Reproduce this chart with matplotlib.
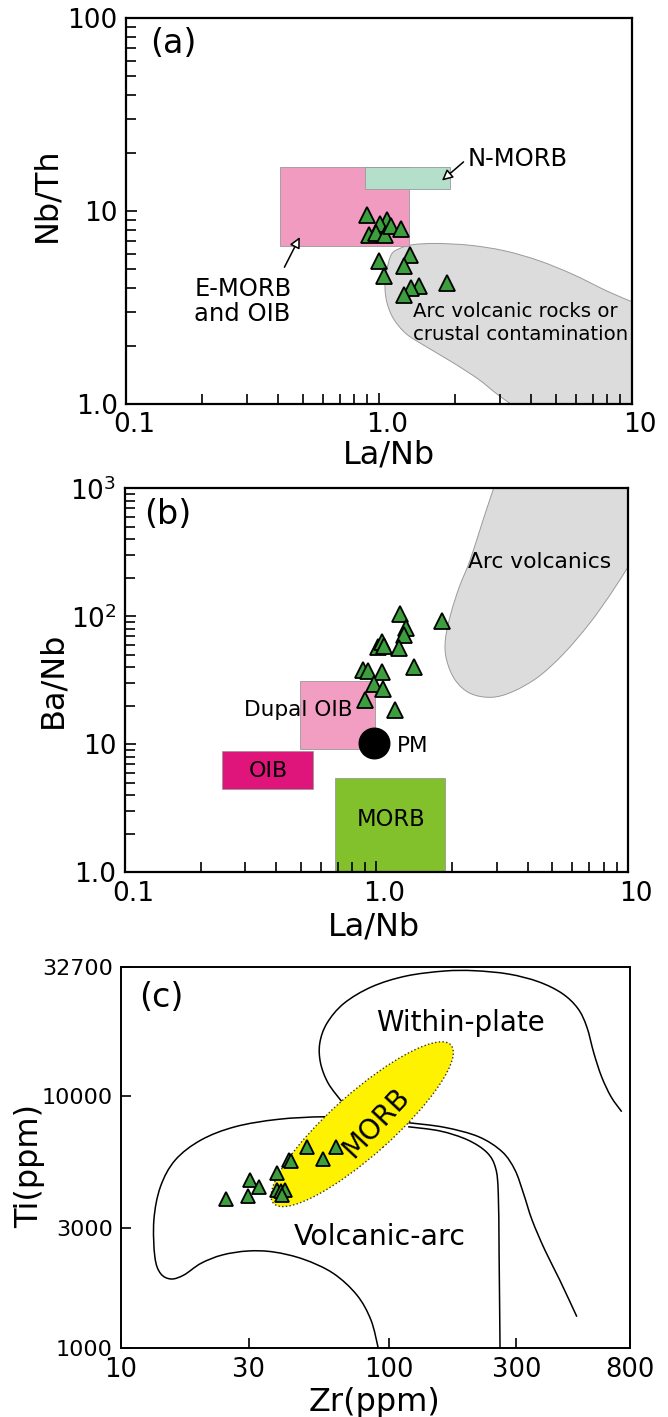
import numpy as np
import matplotlib
matplotlib.use("Agg")
import matplotlib.pyplot as plt
import matplotlib.transforms as mtransforms
from matplotlib.patches import Ellipse, PathPatch
from matplotlib.path import Path
from matplotlib.ticker import LogLocator, NullFormatter, NullLocator

plt.rcParams['font.family'] = ['DejaVu Sans']
plt.rcParams['mathtext.default'] = 'regular'

# ---- panel (a): Nb/Th vs La/Nb ----
a_la_nb = [0.897, 1.077, 1.008, 0.911, 0.977, 1.056, 1.111, 1.219,
           0.996, 1.048, 1.323, 1.258, 1.441, 1.344, 1.258, 1.855]
a_nb_th = [9.57, 9.00, 8.58, 7.55, 7.69, 7.55, 8.33, 8.12,
           5.54, 4.62, 5.92, 5.19, 4.11, 3.99, 3.69, 4.22]

emorb_x = [0.408, 1.318]
emorb_y = [6.60, 16.96]
nmorb_x = [0.88, 1.914]
nmorb_y = [13.08, 16.96]

# arc field outline, from the bottom edge round to the right edge
arc_a_x = [3.32, 2.90, 2.48, 1.966, 1.557, 1.282, 1.141, 1.077, 1.056, 1.068, 1.119,
           1.21, 1.359, 1.684, 2.297, 3.134, 4.28, 5.84, 7.97, 10]
arc_a_y = [1.0, 1.136, 1.34, 1.635, 1.962, 2.31, 2.77, 3.33, 3.99, 4.79, 5.96,
           6.41, 6.70, 6.80, 6.65, 6.23, 5.54, 4.70, 3.85, 3.39]

# ---- panel (b): Ba/Nb vs La/Nb ----
b_la_nb = [1.24, 1.816, 1.31, 1.285, 1.014, 1.047, 1.071, 1.232,
           1.41, 0.881, 0.927, 1.049, 0.977, 1.064, 0.90, 1.185]
b_ba_nb = [105, 92.4, 81.1, 71.4, 57.6, 63.0, 58.6, 56.2,
           40.4, 38.1, 37.6, 36.9, 29.6, 26.9, 22.2, 18.5]

dupal_x = [0.497, 0.984]
dupal_y = [9.2, 31.2]
oib_x = [0.244, 0.558]
oib_y = [4.48, 8.92]
morb_x = [0.687, 1.876]
morb_y = [1.0, 5.43]
pm_x, pm_y = 0.977, 10.3

arc_b_x = [2.92, 2.65, 2.355, 2.135, 1.975, 1.877, 1.899, 2.053, 2.355,
           2.863, 3.48, 4.40, 5.56, 7.03, 8.55, 10]
arc_b_y = [1000, 565, 275, 170.3, 105.5, 65.3, 45.6, 31.8, 25.0,
           23.3, 25.8, 33.7, 51.4, 88.2, 151, 244]

# ---- panel (c): Ti vs Zr ----
c_zr = [24.7, 29.7, 30.4, 32.8, 38.4, 42.5, 43.2,
        38.4, 39.5, 41.0, 39.9, 49.4, 56.7, 63.4]
c_ti = [3902, 4032, 4655, 4378, 4975, 5588, 5551,
        4248, 4221, 4248, 4058, 6277, 5640, 6310]

within_x = [66.9, 59.5, 55.7, 55.3, 58.8, 68.1, 86.6, 116.1, 161.6, 209.2,
            280.5, 363, 444.5, 509, 550, 585, 625, 678, 743]
within_y = [9520, 11260, 13520, 16230, 19490, 23390, 27230, 30020, 31430, 31520,
            30580, 28500, 25630, 22350, 18890, 14810, 11960, 9960, 8690]

arc_top_x = [114.0, 86.6, 57.8, 38.6, 26.7, 19.9, 15.95, 14.04, 13.27, 13.38, 14.04,
             15.37, 17.18, 19.9, 23.9, 29.8, 37.2, 48.1, 62.1, 76.1, 85.9, 91.5]
arc_top_y = [7762, 8200, 8299, 8103, 7574, 6708, 5588, 4378, 3229, 2310, 1984,
             1884, 1954, 2174, 2346, 2433, 2411, 2256, 1984, 1627, 1295, 1000]

inner_x = [118.3, 155.8, 197.8, 233.5, 251.2, 256.9, 258.7, 260.8]
inner_y = [7574, 7284, 6708, 5973, 5179, 4122, 2382, 1000]

outer_x = [118.3, 161.6, 216.9, 265.5, 296.6, 319.0, 343.6, 383.6, 436.0, 505.1]
outer_y = [7859, 7534, 6914, 6029, 5098, 4122, 3229, 2455, 1866, 1335]

morb_c_center = (79.7, 7750)

GREEN = '#3c9e3c'


def smooth_path(xs, ys, corners=(), close=False):
    # Catmull-Rom through the outline points, done in log space,
    # optional straight corner points appended before closing
    p = np.column_stack([np.log10(xs), np.log10(ys)])
    n = len(p)
    verts = [p[0]]
    codes = [Path.MOVETO]
    for i in range(n - 1):
        p0 = p[i - 1] if i > 0 else p[i]
        p3 = p[i + 2] if i + 2 < n else p[i + 1]
        verts += [p[i] + (p[i + 1] - p0) / 6, p[i + 1] - (p3 - p[i]) / 6, p[i + 1]]
        codes += [Path.CURVE4] * 3
    for c in corners:
        verts.append(np.log10(c))
        codes.append(Path.LINETO)
    if close:
        verts.append(p[0])
        codes.append(Path.CLOSEPOLY)
    return Path(10 ** np.array(verts), codes)


fig = plt.figure(figsize=(6.68, 14.17), dpi=100)
W, H = 668, 1417
axa = fig.add_axes([126 / W, 1 - 404 / H, 506 / W, 385.7 / H])
axb = fig.add_axes([124.8 / W, 1 - 872.3 / H, 503.4 / W, 384 / H])
axc = fig.add_axes([121 / W, 1 - 1348.3 / H, 509.3 / W, 381.6 / H])

shift = mtransforms.ScaledTranslation(0.08, 0, fig.dpi_scale_trans)


def box(ax, xs, ys, color, z=1):
    ax.fill([xs[0], xs[1], xs[1], xs[0]], [ys[0], ys[0], ys[1], ys[1]],
            fc=color, ec='#999999', lw=0.6, zorder=z)


def log_frame(ax, xlim, ylim, xt, xl, yt, yl):
    ax.set_xscale('log')
    ax.set_yscale('log')
    ax.set_xlim(*xlim)
    ax.set_ylim(*ylim)
    ax.set_xticks(xt, xl)
    ax.set_yticks(yt, yl)
    ax.xaxis.set_minor_locator(LogLocator(base=10, subs=range(2, 10)))
    ax.yaxis.set_minor_locator(LogLocator(base=10, subs=range(2, 10)))
    ax.xaxis.set_minor_formatter(NullFormatter())
    ax.yaxis.set_minor_formatter(NullFormatter())
    ax.tick_params(which='both', direction='in', top=False, right=False,
                   width=1.2, labelsize=19, pad=6)
    ax.tick_params(which='major', length=8)
    ax.tick_params(which='minor', length=7)
    for s in ax.spines.values():
        s.set_linewidth(1.6)
    for lbl in ax.get_xticklabels():
        lbl.set_transform(lbl.get_transform() + shift)


# ---------------- (a) ----------------
log_frame(axa, (0.1, 10), (1, 100), [0.1, 1, 10], ['0.1', '1.0', '10'],
          [1, 10, 100], ['1.0', '10', '100'])
axa.add_patch(PathPatch(smooth_path(arc_a_x, arc_a_y, corners=[(10, 1.0)], close=True),
                        fc='#dcdcdc', ec='#9a9a9a', lw=0.7, zorder=1))
box(axa, emorb_x, emorb_y, '#f09bbf')
box(axa, nmorb_x, nmorb_y, '#b4dfca')
axa.plot(a_la_nb, a_nb_th, ls='none', marker='^', ms=11, mfc=GREEN,
         mec='black', mew=1.3, zorder=5)
arrow = dict(arrowstyle='-|>', fc='white', ec='black', lw=1.1, mutation_scale=16)
axa.annotate('', xy=(0.492, 7.56), xytext=(0.418, 4.97), arrowprops=arrow, zorder=4)
axa.annotate('', xy=(1.74, 14.1), xytext=(2.20, 18.4), arrowprops=arrow, zorder=4)
axa.text(2.24, 17.2, 'N-MORB', fontsize=17.5, va='baseline', ha='left')
axa.text(0.186, 3.61, 'E-MORB', fontsize=17.5, va='baseline', ha='left')
axa.text(0.186, 2.68, 'and OIB', fontsize=17.5, va='baseline', ha='left')
axa.text(1.368, 2.83, 'Arc volcanic rocks or', fontsize=14.2, va='baseline', ha='left')
axa.text(1.368, 2.15, 'crustal contamination', fontsize=14.2, va='baseline', ha='left')
axa.text(0.047, 0.935, '(a)', transform=axa.transAxes, fontsize=24, va='center')
axa.set_xlabel('La/Nb', fontsize=23)
axa.set_ylabel('Nb/Th', fontsize=23)
axa.xaxis.set_label_coords(0.52, -0.093)
axa.yaxis.set_label_coords(-0.1265, 0.543)

# ---------------- (b) ----------------
log_frame(axb, (0.1, 10), (1, 1000), [0.1, 1, 10], ['0.1', '1.0', '10'],
          [1, 10, 100, 1000], ['1.0', '10', '$10^2$', '$10^3$'])
axb.add_patch(PathPatch(smooth_path(arc_b_x, arc_b_y, corners=[(10, 1000)], close=True),
                        fc='#dcdcdc', ec='#9a9a9a', lw=0.7, zorder=1))
box(axb, dupal_x, dupal_y, '#f29ec3')
box(axb, oib_x, oib_y, '#e0157b')
box(axb, morb_x, morb_y, '#82c12b')
axb.plot(pm_x, pm_y, marker='o', ms=22, color='black', ls='none', zorder=4)
axb.plot(b_la_nb, b_ba_nb, ls='none', marker='^', ms=11.5, mfc=GREEN,
         mec='black', mew=1.3, zorder=5)
axb.text(2.31, 238, 'Arc volcanics', fontsize=15.7, va='baseline', ha='left')
axb.text(0.2965, 16.6, 'Dupal OIB', fontsize=15.6, va='baseline', ha='left', zorder=3)
axb.text(1.20, 8.66, 'PM', fontsize=15.5, va='baseline', ha='left')
axb.text(0.371, 5.52, 'OIB', fontsize=16, va='baseline', ha='center')
axb.text(1.14, 2.31, 'MORB', fontsize=16.3, va='baseline', ha='center')
axb.text(0.039, 0.933, '(b)', transform=axb.transAxes, fontsize=24, va='center')
axb.set_xlabel('La/Nb', fontsize=23)
axb.set_ylabel('Ba/Nb', fontsize=23)
axb.xaxis.set_label_coords(0.495, -0.1026)
axb.yaxis.set_label_coords(-0.112, 0.50)

# ---------------- (c) ----------------
axc.set_xscale('log')
axc.set_yscale('log')
axc.set_xlim(10, 800)
axc.set_ylim(1000, 32700)
axc.set_xticks([10, 30, 100, 300, 800], ['10', '30', '100', '300', '800'])
axc.set_yticks([1000, 3000, 10000, 32700], ['1000', '3000', '10000', '32700'])
axc.xaxis.set_minor_locator(NullLocator())
axc.yaxis.set_minor_locator(NullLocator())
axc.tick_params(axis='x', labelsize=18.5)
axc.tick_params(axis='y', labelsize=16)
axc.tick_params(direction='in', length=7, width=1.2, top=False, right=False, pad=6)
for s in axc.spines.values():
    s.set_linewidth(1.4)

for xs, ys in [(within_x, within_y), (arc_top_x, arc_top_y),
               (inner_x, inner_y), (outer_x, outer_y)]:
    axc.add_patch(PathPatch(smooth_path(xs, ys), fc='none', ec='black',
                            lw=1.1, zorder=2))

ell_tr = fig.dpi_scale_trans + mtransforms.ScaledTranslation(
    morb_c_center[0], morb_c_center[1], axc.transData)
axc.add_patch(Ellipse((0, 0), 2.378, 0.62, angle=41.7, transform=ell_tr,
                      fc='#fff200', ec='#333333', lw=1.0, ls=':', zorder=3))
axc.text(89.8, 7834, 'MORB', fontsize=20, rotation=47, rotation_mode='anchor',
         ha='center', va='center', zorder=4)
axc.plot(c_zr, c_ti, ls='none', marker='^', ms=10, mfc=GREEN,
         mec='black', mew=1.3, zorder=5)
axc.text(89.8, 18150, 'Within-plate', fontsize=20, va='baseline', ha='left')
axc.text(44.3, 2570, 'Volcanic-arc', fontsize=20.5, va='baseline', ha='left')
axc.text(0.035, 0.919, '(c)', transform=axc.transAxes, fontsize=24, va='center')
axc.set_xlabel('Zr(ppm)', fontsize=23)
axc.set_ylabel('Ti(ppm)', fontsize=23)
axc.xaxis.set_label_coords(0.498, -0.1014)
axc.yaxis.set_label_coords(-0.149, 0.478)

fig.savefig('out.png', dpi=100)
